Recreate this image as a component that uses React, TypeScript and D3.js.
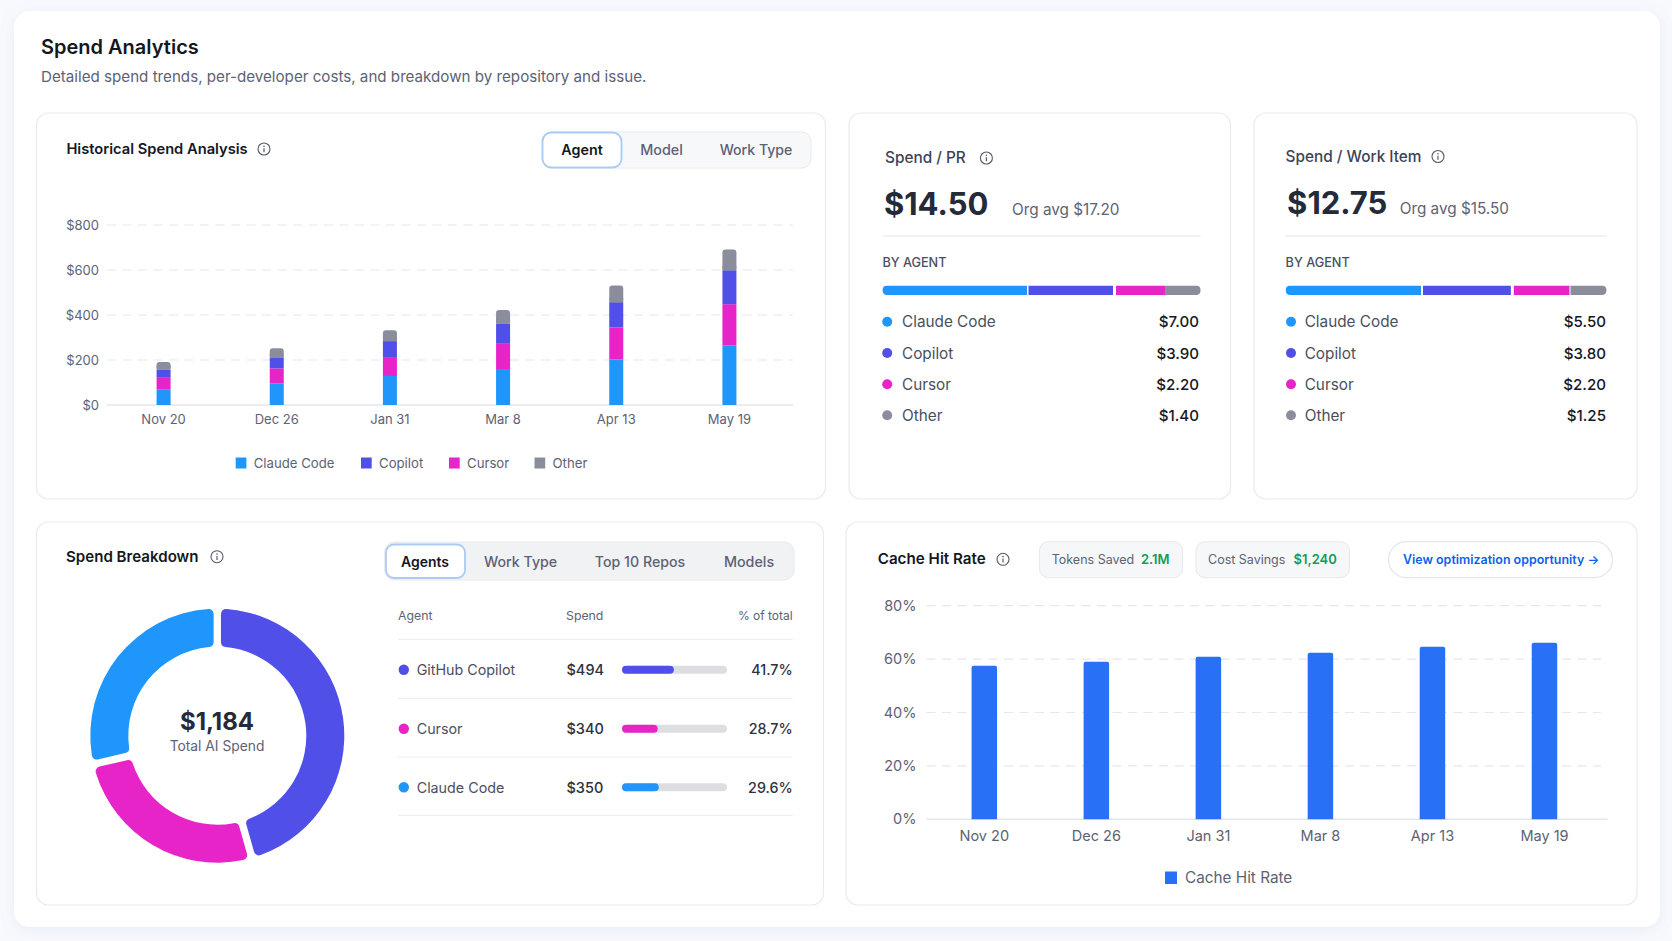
import React, { useEffect, useRef } from "react";
import * as d3 from "d3";

const fontFamily = "Inter";

const dates = ["Nov 20", "Dec 26", "Jan 31", "Mar 8", "Apr 13", "May 19"];
const agents = ["Claude Code", "Copilot", "Cursor", "Other"];
const agentColors = ["#1e96fc", "#5050e8", "#e624c8", "#8a8d9c"];

// historical spend, $ per agent
const claudeSpend = [68, 95, 129, 160, 203, 265];
const cursorSpend = [53, 68, 84, 112, 142, 183];
const copilotSpend = [37, 46, 71, 89, 112, 151];
const otherSpend = [33, 43, 48, 61, 74, 92];
const spendTicks = [0, 200, 400, 600, 800];

const prValues = ["$7.00", "$3.90", "$2.20", "$1.40"];
const workItemValues = ["$5.50", "$3.80", "$2.20", "$1.25"];
// widths of the by-agent bars as drawn, in % (they don't follow the values exactly)
const prBarShares = [45.9, 27.5, 15.4, 11.2];
const workItemBarShares = [42.8, 28.3, 17.65, 11.25];

const breakdownAgents = ["GitHub Copilot", "Cursor", "Claude Code"];
const breakdownColors = ["#5050e8", "#e624c8", "#1e96fc"];
const breakdownSpend = [494, 340, 350];
const breakdownPct = ["41.7%", "28.7%", "29.6%"];
// donut arcs as drawn, in % of the circle
const donutShares = [45.6, 25.8, 28.6];

const cacheHitRate = [57.5, 59, 60.9, 62.4, 64.6, 66.1];
const cacheTicks = [0, 20, 40, 60, 80];

const dark = "#15171f";
const gray = "#5d6274";
const ink = "#252a3a";

const App: React.FC = () => {
  const svgRef = useRef<SVGSVGElement | null>(null);

  useEffect(() => {
    const svg = d3.select(svgRef.current);
    svg.selectAll("*").remove();
    svg.style("font-family", fontFamily);

    const defs = svg.append("defs");
    const shadow = defs
      .append("filter")
      .attr("id", "cardShadow")
      .attr("x", "-5%")
      .attr("y", "-5%")
      .attr("width", "110%")
      .attr("height", "110%");
    shadow
      .append("feDropShadow")
      .attr("dx", 0)
      .attr("dy", 3)
      .attr("stdDeviation", 7)
      .attr("flood-color", "#8a94b8")
      .attr("flood-opacity", 0.13);

    const box = (
      x: number,
      y: number,
      w: number,
      h: number,
      r: number,
      fill: string,
      stroke = "none",
      strokeWidth = 1
    ) =>
      svg
        .append("rect")
        .attr("x", x)
        .attr("y", y)
        .attr("width", w)
        .attr("height", h)
        .attr("rx", r)
        .attr("fill", fill)
        .attr("stroke", stroke)
        .attr("stroke-width", strokeWidth);

    const text = (
      str: string,
      x: number,
      y: number,
      size: number,
      fill: string,
      weight = 400,
      anchor = "start"
    ) =>
      svg
        .append("text")
        .text(str)
        .attr("x", x)
        .attr("y", y)
        .attr("font-size", size)
        .attr("fill", fill)
        .attr("font-weight", weight)
        .attr("text-anchor", anchor);

    const infoIcon = (x: number, y: number) => {
      const g = svg.append("g").attr("transform", `translate(${x},${y})`);
      g.append("circle")
        .attr("r", 6)
        .attr("fill", "none")
        .attr("stroke", "#565b6b")
        .attr("stroke-width", 1.1);
      g.append("circle").attr("cy", -2.7).attr("r", 0.8).attr("fill", "#565b6b");
      g.append("line")
        .attr("y1", -0.8)
        .attr("y2", 3.2)
        .attr("stroke", "#565b6b")
        .attr("stroke-width", 1.2);
    };

    const styleAxis = (g: any, size: number) => {
      g.select(".domain").remove();
      g.selectAll(".tick line").remove();
      g.selectAll("text")
        .attr("fill", gray)
        .attr("font-size", size)
        .style("font-family", fontFamily);
    };

    // page + outer card
    box(0, 0, 1672, 941, 0, "#f7f9fd");
    box(14, 11, 1646, 916, 16, "#ffffff").attr("filter", "url(#cardShadow)");

    text("Spend Analytics", 41, 53.5, 20, dark, 600);
    text(
      "Detailed spend trends, per-developer costs, and breakdown by repository and issue.",
      41,
      81.5,
      15.16,
      gray
    );

    // panels
    const border = "#e9ebf0";
    box(36.5, 113, 789, 386, 12, "#fff", border, 1.2);
    box(849, 113, 381.5, 386, 12, "#fff", border, 1.2);
    box(1254, 113, 383, 386, 12, "#fff", border, 1.2);
    box(36.5, 522, 787, 383, 12, "#fff", border, 1.2);
    box(846, 522, 791, 383, 12, "#fff", border, 1.2);

    // ---- Historical Spend Analysis
    text("Historical Spend Analysis", 66.4, 154, 14.7, dark, 600);
    infoIcon(264, 149);

    box(542, 132, 269, 36, 9, "#f7f8fa", "#e8eaef", 1);
    box(542.5, 132.5, 79, 35, 9, "#ffffff", "#a9cbf6", 1.8);
    text("Agent", 582, 154.5, 14.3, dark, 600, "middle");
    text("Model", 661.5, 154.5, 14.3, gray, 500, "middle");
    text("Work Type", 756, 154.5, 14.1, gray, 500, "middle");

    const spendRows = dates.map((d, i) => ({
      date: d,
      "Claude Code": claudeSpend[i],
      Cursor: cursorSpend[i],
      Copilot: copilotSpend[i],
      Other: otherSpend[i],
    }));
    const stack = d3
      .stack<any>()
      .keys(["Claude Code", "Cursor", "Copilot", "Other"]);
    const layers = stack(spendRows);

    const xSpend = d3.scaleBand<string>().domain(dates).range([107, 786]);
    const ySpend = d3.scaleLinear().domain([0, 800]).range([405, 225]);
    const spendBarWidth = 14;

    svg
      .append("g")
      .selectAll("line")
      .data(spendTicks.filter((t) => t > 0))
      .join("line")
      .attr("x1", 107)
      .attr("x2", 793)
      .attr("y1", (d) => ySpend(d))
      .attr("y2", (d) => ySpend(d))
      .attr("stroke", "#e5e7ed")
      .attr("stroke-width", 1.2)
      .attr("stroke-dasharray", "9 6.5");
    svg
      .append("line")
      .attr("x1", 107)
      .attr("x2", 793)
      .attr("y1", ySpend(0))
      .attr("y2", ySpend(0))
      .attr("stroke", "#e3e6ee")
      .attr("stroke-width", 1.4);

    svg
      .append("g")
      .attr("transform", "translate(107,0)")
      .call(
        d3
          .axisLeft(ySpend)
          .tickValues(spendTicks)
          .tickFormat((d) => `$${d}`)
          .tickSize(0)
          .tickPadding(8)
      )
      .call((g) => styleAxis(g, 13));

    svg
      .append("g")
      .attr("transform", "translate(0,405)")
      .call(d3.axisBottom(xSpend).tickSize(0).tickPadding(10))
      .call((g) => styleAxis(g, 13));

    layers.forEach((layer) => {
      const color = agentColors[agents.indexOf(layer.key)];
      svg
        .append("g")
        .selectAll("rect")
        .data(layer)
        .join("rect")
        .attr("x", (d) => xSpend(d.data.date)! + xSpend.bandwidth() / 2 - spendBarWidth / 2)
        .attr("y", (d) => ySpend(d[1]))
        .attr("width", spendBarWidth)
        .attr("height", (d) => ySpend(d[0]) - ySpend(d[1]))
        .attr("rx", layer.key === "Other" ? 3 : 0)
        .attr("fill", color);
    });
    // square off the bottom of the rounded top segments
    svg
      .append("g")
      .selectAll("rect")
      .data(layers[3])
      .join("rect")
      .attr("x", (d) => xSpend(d.data.date)! + xSpend.bandwidth() / 2 - spendBarWidth / 2)
      .attr("y", (d) => ySpend(d[0]) - 4)
      .attr("width", spendBarWidth)
      .attr("height", 4)
      .attr("fill", agentColors[3]);

    const spendLegendSquares = [235.7, 361, 449, 534.5];
    agents.forEach((a, i) => {
      box(spendLegendSquares[i], 457.5, 10.7, 11, 0, agentColors[i]);
      text(a, spendLegendSquares[i] + 18, 468, 13.2, gray);
    });

    // ---- per-unit spend cards
    const spendCard = (
      o: {
        title: string;
        titleY: number;
        infoX: number;
        infoY: number;
        big: string;
        bigY: number;
        avg: string;
        avgX: number;
        left: number;
        right: number;
        titleX: number;
        labelX: number;
        dotX: number;
        valueX: number;
        gaps: number[];
      },
      values: string[],
      shares: number[],
      id: string
    ) => {
      text(o.title, o.titleX, o.titleY, 15.35, "#3d4355", 500);
      infoIcon(o.infoX, o.infoY);
      text(o.big, o.left + 1.5, o.bigY, 31, ink, 700);
      text(o.avg, o.avgX, o.bigY, 15.3, gray);
      svg
        .append("line")
        .attr("x1", o.left)
        .attr("x2", o.right)
        .attr("y1", 236)
        .attr("y2", 236)
        .attr("stroke", "#eceef2")
        .attr("stroke-width", 1.3);
      text("BY AGENT", o.left, 267, 12.7, "#4a4f60", 500);

      const barX = d3
        .scaleLinear()
        .domain([0, d3.sum(shares)])
        .range([o.left, o.right]);
      defs
        .append("clipPath")
        .attr("id", id)
        .append("rect")
        .attr("x", o.left)
        .attr("y", 285.5)
        .attr("width", o.right - o.left)
        .attr("height", 9.5)
        .attr("rx", 4.5);
      const cum = d3.cumsum(shares);
      svg
        .append("g")
        .attr("clip-path", `url(#${id})`)
        .selectAll("rect")
        .data(shares)
        .join("rect")
        .attr("x", (_d, i) => barX(i === 0 ? 0 : cum[i - 1]))
        .attr("y", 285.5)
        .attr("width", (d, i) => barX(d) - barX(0) - (o.gaps[i] ?? 0))
        .attr("height", 9.5)
        .attr("fill", (_d, i) => agentColors[i]);

      const rowY = [321.7, 353, 384.3, 415.3];
      agents.forEach((a, i) => {
        svg
          .append("circle")
          .attr("cx", o.dotX)
          .attr("cy", rowY[i])
          .attr("r", 5)
          .attr("fill", agentColors[i]);
        text(a, o.labelX, rowY[i] + 5.5, 15.3, "#4a4f60");
        text(values[i], o.valueX, rowY[i] + 5.5, 15.1, dark, 500, "end");
      });
    };

    spendCard(
      {
        title: "Spend / PR",
        titleY: 163,
        infoX: 986.4,
        infoY: 158,
        big: "$14.50",
        bigY: 215,
        avg: "Org avg $17.20",
        avgX: 1012,
        left: 882.4,
        right: 1200.7,
        titleX: 885,
        labelX: 902,
        dotX: 887.2,
        valueX: 1199,
        gaps: [1.5, 3, 0],
      },
      prValues,
      prBarShares,
      "prBar"
    );
    spendCard(
      {
        title: "Spend / Work Item",
        titleY: 161.5,
        infoX: 1438,
        infoY: 156.5,
        big: "$12.75",
        bigY: 213.5,
        avg: "Org avg $15.50",
        avgX: 1399.7,
        left: 1285.6,
        right: 1606.6,
        titleX: 1285.6,
        labelX: 1304.7,
        dotX: 1291,
        valueX: 1606,
        gaps: [2, 3, 1],
      },
      workItemValues,
      workItemBarShares,
      "workBar"
    );

    // ---- Spend Breakdown
    text("Spend Breakdown", 66, 562, 15.1, dark, 600);
    infoIcon(217, 556.7);

    box(384.6, 542, 409.5, 38, 10, "#f1f2f4", "#e8eaee", 1);
    box(386, 544.5, 79, 33.5, 8, "#ffffff", "#a9cbf6", 1.8);
    text("Agents", 425, 567, 14, dark, 600, "middle");
    text("Work Type", 520.6, 567, 14.2, gray, 500, "middle");
    text("Top 10 Repos", 640, 567, 14.2, gray, 500, "middle");
    text("Models", 749, 567, 14.3, gray, 500, "middle");

    const pie = d3.pie<number>().sort(null);
    const arc = d3
      .arc<d3.PieArcDatum<number>>()
      .innerRadius(89)
      .outerRadius(127)
      .cornerRadius(5)
      .padAngle(0.068)
      .padRadius(108);
    svg
      .append("g")
      .attr("transform", "translate(217.3,735.7)")
      .selectAll("path")
      .data(pie(donutShares))
      .join("path")
      .attr("d", arc)
      .attr("fill", (_d, i) => breakdownColors[i]);

    text("$1,184", 217, 729.5, 24, ink, 700, "middle");
    text("Total AI Spend", 217, 750.5, 13.8, gray, 400, "middle");

    text("Agent", 398, 619.5, 12.3, gray);
    text("Spend", 566, 619.5, 12.3, gray);
    text("% of total", 792.7, 619.5, 12, gray, 400, "end");

    const rowLines = [639.3, 698.3, 757, 815.3];
    svg
      .append("g")
      .selectAll("line")
      .data(rowLines)
      .join("line")
      .attr("x1", 398)
      .attr("x2", 792.7)
      .attr("y1", (d) => d)
      .attr("y2", (d) => d)
      .attr("stroke", "#ebedf1")
      .attr("stroke-width", 1.2);

    const tableRowY = [669.7, 728.7, 787.3];
    const spendBar = d3.scaleLinear().domain([0, 1000]).range([0, 105]);
    breakdownAgents.forEach((a, i) => {
      const y = tableRowY[i];
      svg
        .append("circle")
        .attr("cx", 403.8)
        .attr("cy", y)
        .attr("r", 5.2)
        .attr("fill", breakdownColors[i]);
      text(a, 416.7, y + 5.2, 14.3, "#4a4f60");
      text(`$${breakdownSpend[i]}`, 566.5, y + 5.2, 14.5, "#2d3140", 500);
      box(622, y - 4, 105, 8, 4, "#dcdee2");
      box(622, y - 4, spendBar(breakdownSpend[i]), 8, 4, breakdownColors[i]);
      text(breakdownPct[i], 792.7, y + 5.2, 14.3, "#2d3140", 500, "end");
    });

    // ---- Cache Hit Rate
    text("Cache Hit Rate", 877.7, 564, 15.2, dark, 600);
    infoIcon(1003, 559.3);

    box(1039.5, 541.7, 143, 36, 9, "#f6f7f8", "#e6e8ec", 1);
    text("Tokens Saved", 1051.7, 564, 12.5, gray);
    text("2.1M", 1141, 564, 13, "#0f9d58", 600);
    box(1196, 541.7, 153.5, 36, 9, "#f6f7f8", "#e6e8ec", 1);
    text("Cost Savings", 1208, 564, 12.5, gray);
    text("$1,240", 1293.6, 564, 13, "#0f9d58", 600);
    box(1388.5, 541.7, 224, 36, 18, "#ffffff", "#e3e6ec", 1.2);
    text("View optimization opportunity →", 1403, 564, 12.45, "#0b5ff0", 600);

    const xCache = d3.scaleBand<string>().domain(dates).range([928.3, 1600.5]);
    const yCache = d3.scaleLinear().domain([0, 80]).range([819.3, 605.7]);
    const cacheBarWidth = 25.5;

    svg
      .append("g")
      .selectAll("line")
      .data(cacheTicks.filter((t) => t > 0))
      .join("line")
      .attr("x1", 926.5)
      .attr("x2", 1601)
      .attr("y1", (d) => yCache(d))
      .attr("y2", (d) => yCache(d))
      .attr("stroke", "#e5e7ed")
      .attr("stroke-width", 1.2)
      .attr("stroke-dasharray", "9 6.5");
    svg
      .append("line")
      .attr("x1", 926.5)
      .attr("x2", 1607.6)
      .attr("y1", yCache(0))
      .attr("y2", yCache(0))
      .attr("stroke", "#e3e6ee")
      .attr("stroke-width", 1.4);

    svg
      .append("g")
      .attr("transform", "translate(926.5,0)")
      .call(
        d3
          .axisLeft(yCache)
          .tickValues(cacheTicks)
          .tickFormat((d) => `${d}%`)
          .tickSize(0)
          .tickPadding(10)
      )
      .call((g) => styleAxis(g, 14.5));

    svg
      .append("g")
      .attr("transform", "translate(0,819.3)")
      .call(d3.axisBottom(xCache).tickSize(0).tickPadding(11))
      .call((g) => styleAxis(g, 14.5));

    svg
      .append("g")
      .selectAll("path")
      .data(cacheHitRate)
      .join("path")
      .attr("d", (d, i) => {
        const x0 = xCache(dates[i])! + xCache.bandwidth() / 2 - cacheBarWidth / 2;
        const y0 = yCache(d);
        const y1 = yCache(0);
        const p = d3.path();
        p.moveTo(x0, y1);
        p.lineTo(x0, y0 + 2);
        p.quadraticCurveTo(x0, y0, x0 + 2, y0);
        p.lineTo(x0 + cacheBarWidth - 2, y0);
        p.quadraticCurveTo(x0 + cacheBarWidth, y0, x0 + cacheBarWidth, y0 + 2);
        p.lineTo(x0 + cacheBarWidth, y1);
        p.closePath();
        return p.toString();
      })
      .attr("fill", "#2870f5");

    box(1165, 871.5, 12, 12.5, 0, "#2870f5");
    text("Cache Hit Rate", 1185, 883, 15.3, gray);
  }, []);

  return (
    <div style={{ position: "absolute", left: 0, top: 0 }}>
      <svg ref={svgRef} width={1672} height={941} style={{ display: "block" }}></svg>
    </div>
  );
};

export default App;
